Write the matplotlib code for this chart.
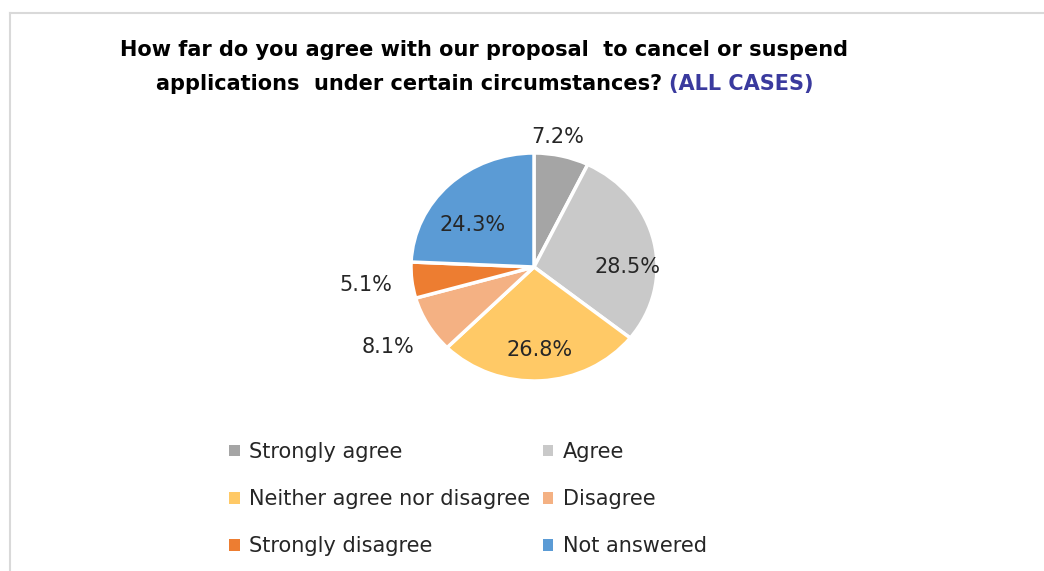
import matplotlib
matplotlib.use("Agg")
import matplotlib.pyplot as plt
from matplotlib.lines import Line2D
from matplotlib.patches import Patch
import numpy as np

# survey answers, clockwise from 12 o'clock
labels = ["Strongly agree", "Agree", "Neither agree nor disagree",
          "Disagree", "Strongly disagree", "Not answered"]
shares = [7.2, 28.5, 26.8, 8.1, 5.1, 24.3]
colors = ["#A5A5A5", "#C9C9C9", "#FFC966", "#F4B183", "#ED7D31", "#5B9BD5"]
# where each percentage sits: distance from centre and turn off the mid-angle
label_dist = [1.16, 0.76, 0.73, 1.38, 1.38, 0.62]
label_turn = [3.5, -13, 0, 0, 0, 10]

title1 = "How far do you agree with our proposal  to cancel or suspend"
title2 = "applications  under certain circumstances? "
title2_tag = "(ALL CASES)"

fig = plt.figure(figsize=(10.44, 5.71), dpi=100)
W, H = 1044, 571

# light frame on top and left
fig.add_artist(Line2D([10 / W, 10 / W], [0, 1 - 13 / H], color="#D9D9D9", lw=1.5))
fig.add_artist(Line2D([10 / W, 1], [1 - 13 / H, 1 - 13 / H], color="#D9D9D9", lw=1.5))

tfont = dict(family=["Liberation Sans Narrow", "DejaVu Sans"], weight="bold", size=15)
fig.text(484 / W, 1 - 50 / H, title1, ha="center", va="center", color="black", **tfont)
t2 = fig.text(0, 1 - 84 / H, title2, ha="left", va="center", color="black", **tfont)
t3 = fig.text(0, 1 - 84 / H, title2_tag, ha="left", va="center", color="#3A3A9E", **tfont)
r = fig.canvas.get_renderer()
w2 = t2.get_window_extent(r).width
w3 = t3.get_window_extent(r).width
x0 = 485 - (w2 + w3) / 2
t2.set_x(x0 / W)
t3.set_x((x0 + w2) / W)

# pie axes, a bit wider than tall
cx, cy, rx, ry = 534, 267, 123, 114
ax = fig.add_axes([(cx - rx) / W, (H - cy - ry) / H, 2 * rx / W, 2 * ry / H])
wedges, _ = ax.pie(shares, colors=colors, startangle=90, counterclock=False,
                   wedgeprops=dict(edgecolor="white", linewidth=2.5))
ax.set_aspect("auto")
ax.set_xlim(-1, 1)
ax.set_ylim(-1, 1)
ax.axis("off")

for w, v, d, t in zip(wedges, shares, label_dist, label_turn):
    ang = np.deg2rad((w.theta1 + w.theta2) / 2 + t)
    ax.text(d * np.cos(ang), d * np.sin(ang), f"{v:.1f}%", ha="center", va="center",
            fontsize=15, color="#262626", family="DejaVu Sans", clip_on=False)

# legend filled row by row
order = [0, 2, 4, 1, 3, 5]
handles = [Patch(facecolor=colors[i], edgecolor="none") for i in order]
fig.legend(handles, [labels[i] for i in order], ncol=2, loc="center",
           bbox_to_anchor=(468 / W, 1 - 499 / H), frameon=False, fontsize=15,
           handlelength=0.5, handleheight=0.5, handletextpad=0.45,
           columnspacing=0.6, labelspacing=1.3, labelcolor="#262626")

fig.savefig("out.png", dpi=100)
